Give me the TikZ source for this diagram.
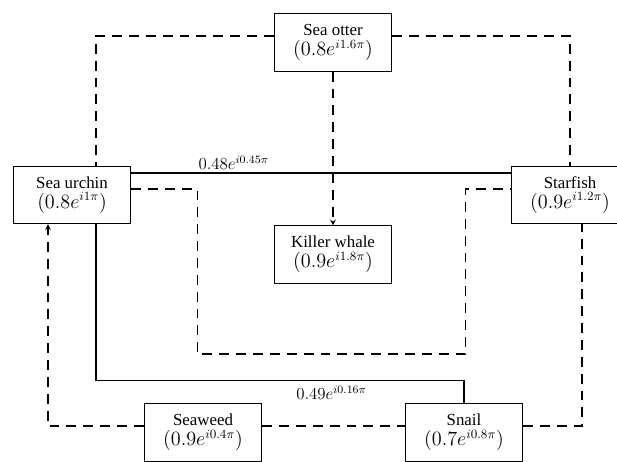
\documentclass[tikz,border=0pt]{standalone}
\usepackage{fontspec}
\setmainfont{Liberation Serif}
\usetikzlibrary{positioning,calc,arrows}
\tikzstyle{species}=[rectangle,draw,line width=0.8pt,minimum width=2.93cm,minimum height=1.43cm,align=center,inner sep=2pt,font=\fontsize{12}{14}\selectfont]
\tikzstyle{link}=[draw,line width=0.8pt]
\tikzstyle{weaklink}=[draw,line width=0.8pt,dash pattern=on 7pt off 5pt]
\tikzstyle{weight}=[font=\fontsize{12}{14}\selectfont,inner sep=2pt]
\newcommand{\rate}[1]{{\fontsize{13.5}{15}\selectfont$(#1)$}}

\begin{document}
\begin{tikzpicture}[x=0.025cm,y=-0.025cm,>=stealth]
    \useasboundingbox (0,0) rectangle (617,461);

    \foreach \pos/\name/\txt in {{(333,42.5)/otter/{Sea otter\\\rate{0.8e^{i1.6\pi}}}},
            {(72,195)/urchin/{Sea urchin\\\rate{0.8e^{i1\pi}}}},
            {(570,195)/starfish/{Starfish\\\rate{0.9e^{i1.2\pi}}}},
            {(333,254.5)/killer/{Killer whale\\\rate{0.9e^{i1.8\pi}}}},
            {(203,432.5)/seaweed/{Seaweed\\\rate{0.9e^{i0.4\pi}}}},
            {(464,432.5)/snail/{Snail\\\rate{0.7e^{i0.8\pi}}}}}
            \node[species] (\name) at \pos {\txt};

    % dashed links from the otter
    \path[weaklink] ($(otter.west)+(0,-6.5)$) -| ($(urchin.north)+(24,0)$);
    \path[weaklink] ($(otter.east)+(0,-6.5)$) -| (starfish.north);
    \path[weaklink,->] (otter) -- (killer);

    % urchin links
    \path[link] ($(urchin.east)+(0,-22)$) -- node[weight,above,pos=0.27] {$0.48e^{i0.45\pi}$} ($(starfish.west)+(0,-22)$);
    \path[weaklink] ($(urchin.east)+(0,-6)$) -- ++(66,0) -- ++(0,165) -- ++(268,0) |- ($(starfish.west)+(0,-6)$);
    \path[link] ($(urchin.south)+(24,0)$) -- ++(0,156) -| node[weight,below,pos=0.32,yshift=-2pt] {$0.49e^{i0.16\pi}$} (snail.north);

    % bottom row
    \path[weaklink,->] ($(seaweed.west)+(0,-6.5)$) -| ($(urchin.south)+(-24,0)$);
    \path[weaklink] ($(seaweed.east)+(0,-6.5)$) -- ($(snail.west)+(0,-6.5)$);
    \path[weaklink] ($(snail.east)+(0,-6.5)$) -| ($(starfish.south)+(12,0)$);
\end{tikzpicture}
\end{document}
